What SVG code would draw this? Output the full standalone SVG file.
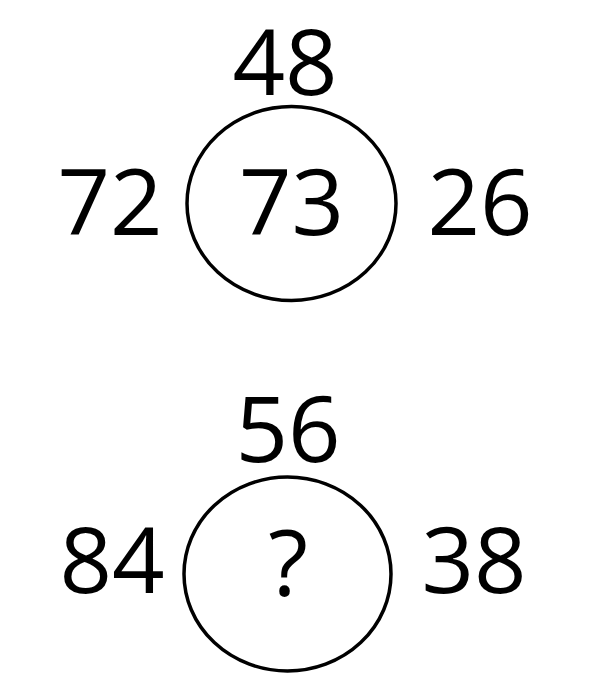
<svg xmlns="http://www.w3.org/2000/svg" width="600" height="700" viewBox="0 0 600 700">
<style>
.num{font-family:"Open Sans","Noto Sans","Liberation Sans",sans-serif;font-size:92px;fill:#000;text-anchor:middle}
.ring{fill:none;stroke:#000;stroke-width:3.5}
</style>
<rect width="600" height="700" fill="#fff"/>
<g id="top">
<ellipse class="ring" cx="291.5" cy="203.5" rx="104.5" ry="97"/>
<text class="num" x="285" y="95">48</text>
<text class="num" x="110" y="235">72</text>
<text class="num" x="291.5" y="235">73</text>
<text class="num" x="480" y="235">26</text>
</g>
<g id="bottom">
<ellipse class="ring" cx="287.5" cy="574" rx="103.5" ry="97"/>
<text class="num" x="288" y="462">56</text>
<text class="num" x="112" y="593">84</text>
<text class="num" x="288" y="596">?</text>
<text class="num" x="474" y="593">38</text>
</g>
<g id="connectors"/>
</svg>
